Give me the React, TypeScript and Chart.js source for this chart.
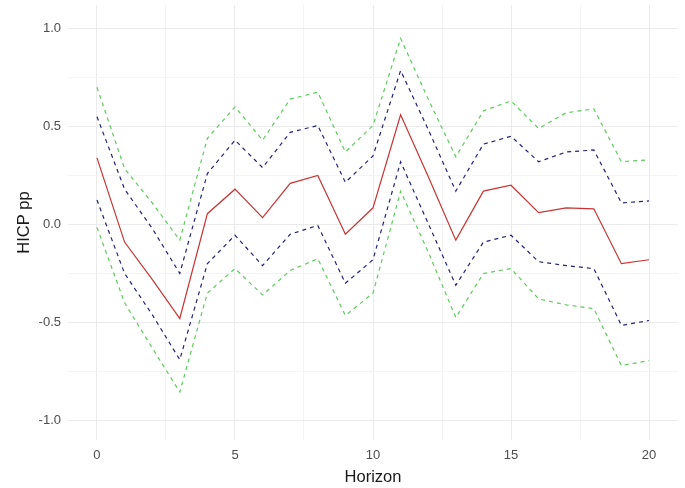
import React, { useEffect, useRef } from "react";
import { Chart, registerables } from "chart.js";

Chart.register(...registerables);

const horizon = [0, 1, 2, 3, 4, 5, 6, 7, 8, 9, 10, 11, 12, 13, 14, 15, 16, 17, 18, 19, 20];
const irf = [0.34, -0.09, -0.28, -0.48, 0.055, 0.18, 0.035, 0.21, 0.25, -0.05, 0.085, 0.56, 0.245, -0.08, 0.17, 0.2, 0.06, 0.085, 0.08, -0.2, -0.18];
const upper68 = [0.55, 0.18, -0.02, -0.25, 0.26, 0.43, 0.29, 0.47, 0.505, 0.215, 0.35, 0.785, 0.485, 0.17, 0.41, 0.45, 0.32, 0.37, 0.38, 0.11, 0.12];
const lower68 = [0.125, -0.25, -0.46, -0.69, -0.2, -0.055, -0.21, -0.05, -0.005, -0.3, -0.18, 0.32, 0.005, -0.31, -0.09, -0.055, -0.19, -0.21, -0.225, -0.515, -0.49];
const upper90 = [0.7, 0.285, 0.11, -0.08, 0.44, 0.6, 0.43, 0.64, 0.675, 0.37, 0.505, 0.95, 0.64, 0.345, 0.58, 0.63, 0.49, 0.57, 0.59, 0.32, 0.33];
const lower90 = [-0.015, -0.4, -0.63, -0.855, -0.35, -0.225, -0.36, -0.235, -0.175, -0.465, -0.35, 0.17, -0.14, -0.475, -0.25, -0.225, -0.38, -0.41, -0.43, -0.72, -0.695];

const xMajor = [0, 5, 10, 15, 20];
const xMinor = [2.5, 7.5, 12.5, 17.5];
const yMajor = [-1, -0.5, 0, 0.5, 1];
const yMinor = [-0.75, -0.25, 0.25, 0.75];

const xTitle = "Horizon";
const yTitle = "HICP pp";

const FONT = "'Liberation Sans', Arial, sans-serif";

function pts(vals: number[]) {
  return vals.map((v, i) => ({ x: horizon[i], y: v }));
}

export default function App() {
  const ref = useRef<HTMLCanvasElement | null>(null);

  useEffect(() => {
    if (!ref.current) return;
    const dashed = (label: string, vals: number[], color: string) => ({
      label,
      data: pts(vals),
      borderColor: color,
      borderWidth: 1.2,
      borderDash: [4, 4],
      pointRadius: 0,
      tension: 0,
      fill: false,
    });
    const chart = new Chart(ref.current, {
      type: "line",
      data: {
        datasets: [
          dashed("lower90", lower90, "#5ccc5c"),
          dashed("upper90", upper90, "#5ccc5c"),
          dashed("lower68", lower68, "#22227a"),
          dashed("upper68", upper68, "#22227a"),
          {
            label: "irf",
            data: pts(irf),
            borderColor: "#c83434",
            borderWidth: 1.2,
            pointRadius: 0,
            tension: 0,
            fill: false,
          },
        ],
      },
      options: {
        animation: false,
        responsive: false,
        maintainAspectRatio: false,
        layout: { padding: { top: 5, right: 7, left: 0, bottom: 0 } },
        plugins: { legend: { display: false }, tooltip: { enabled: false } },
        scales: {
          x: {
            type: "linear",
            min: -1.05,
            max: 21.05,
            afterBuildTicks: (s: any) => {
              s.ticks = [...xMajor, ...xMinor].sort((a, b) => a - b).map((value) => ({ value }));
            },
            afterFit: (s: any) => {
              s.height = 48;
              s.paddingLeft = 0;
              s.paddingRight = 0;
              s.paddingTop = 0;
              s.paddingBottom = 0;
            },
            border: { display: false },
            grid: {
              drawTicks: false,
              color: (c: any) => (xMajor.includes(c.tick?.value) ? "#ebebeb" : "#f4f4f4"),
            },
            ticks: {
              autoSkip: false,
              maxRotation: 0,
              padding: 8,
              color: "#4d4d4d",
              font: { family: FONT, size: 13 },
              callback: (v: any) => (xMajor.includes(Number(v)) ? String(v) : ""),
            },
            title: {
              display: true,
              text: xTitle,
              color: "#1a1a1a",
              font: { family: FONT, size: 16.5 },
              padding: { top: 0, bottom: 1 },
            },
          },
          y: {
            type: "linear",
            min: -1.1,
            max: 1.12,
            afterBuildTicks: (s: any) => {
              s.ticks = [...yMajor, ...yMinor].sort((a, b) => a - b).map((value) => ({ value }));
            },
            afterFit: (s: any) => {
              s.width = 68;
              s.paddingLeft = 0;
              s.paddingRight = 0;
              s.paddingTop = 0;
              s.paddingBottom = 0;
            },
            border: { display: false },
            grid: {
              drawTicks: false,
              color: (c: any) => (yMajor.includes(c.tick?.value) ? "#ebebeb" : "#f4f4f4"),
            },
            ticks: {
              autoSkip: false,
              padding: 7,
              color: "#4d4d4d",
              font: { family: FONT, size: 13 },
              callback: (v: any) => (yMajor.includes(Number(v)) ? Number(v).toFixed(1) : ""),
            },
            title: {
              display: true,
              text: yTitle,
              color: "#1a1a1a",
              font: { family: FONT, size: 16.5 },
              padding: { top: 15, bottom: 0 },
            },
          },
        },
      },
    });
    return () => chart.destroy();
  }, []);

  return (
    <div style={{ position: "absolute", left: 0, top: 0, width: 685, height: 488, background: "#fff" }}>
      <canvas ref={ref} width={685} height={488} style={{ display: "block", width: 685, height: 488 }} />
    </div>
  );
}
